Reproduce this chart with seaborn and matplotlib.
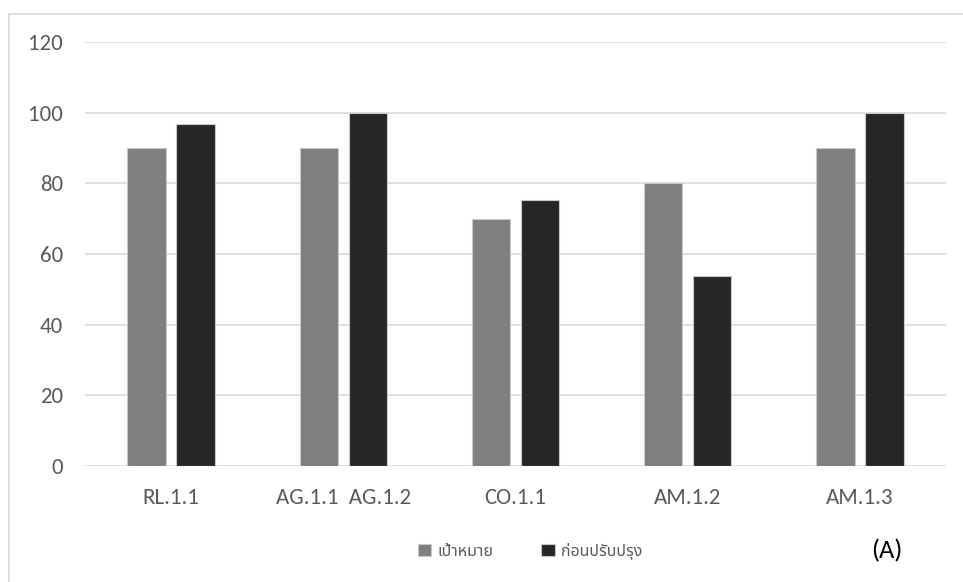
import matplotlib
matplotlib.use("Agg")
import matplotlib.pyplot as plt
from matplotlib.patches import Rectangle
import seaborn as sns
import pandas as pd

categories = ["RL.1.1", "AG.1.1  AG.1.2", "CO.1.1", "AM.1.2", "AM.1.3"]
series_names = ["เป้าหมาย", "ก่อนปรับปรุง"]
target = [90, 90, 70, 80, 90]
before = [96.7, 100, 75.3, 53.8, 100]
yticks = [0, 20, 40, 60, 80, 100, 120]
panel_label = "(A)"

df = pd.DataFrame({
    "cat": categories * 2,
    "series": [series_names[0]] * len(categories) + [series_names[1]] * len(categories),
    "value": target + before,
})

sns.set_theme(style="white")
latin = ["Carlito", "Open Sans", "DejaVu Sans"]
thai = ["Noto Sans Thai", "Sarabun", "Athiti", "DejaVu Sans"]
plt.rcParams["font.family"] = latin

W, H = 963, 582
fig = plt.figure(figsize=(W / 100, H / 100), dpi=100)
ax = fig.add_axes([85 / W, 1 - 466 / H, (946 - 85) / W, (466 - 42) / H])

palette = {series_names[0]: "#7f7f7f", series_names[1]: "#262626"}
sns.barplot(data=df, x="cat", y="value", hue="series", order=categories,
            hue_order=series_names, palette=palette, width=0.57, gap=0.22,
            edgecolor="#c8c8c8", linewidth=0.8, saturation=1, ax=ax, legend=True)

ax.set_ylim(0, 120)
ax.set_yticks(yticks)
ax.set_xlim(-0.5, len(categories) - 0.5)
ax.set_xlabel("")
ax.set_ylabel("")
ax.grid(axis="y", color="#d9d9d9", linewidth=1.2)
ax.set_axisbelow(True)
for s in ax.spines.values():
    s.set_visible(False)
ax.tick_params(axis="both", length=0, labelsize=16.5, colors="#595959")
ax.tick_params(axis="y", pad=16)
ax.tick_params(axis="x", pad=16)

handles, labels = ax.get_legend_handles_labels()
ax.get_legend().remove()
fig.legend(handles, labels, loc="center", bbox_to_anchor=(530 / W, 1 - 551 / H),
           ncol=2, frameon=False, handlelength=0.85, handleheight=0.85,
           handletextpad=0.4, columnspacing=3.0,
           prop={"family": thai, "size": 11.5}, labelcolor="#595959")

fig.text(871 / W, 1 - 551 / H, panel_label, ha="left", va="center",
         fontsize=19, color="black", family=latin)

fig.patches.append(Rectangle((8.5 / W, -0.1), 1.2, 1.1 - 13.5 / H,
                             transform=fig.transFigure, fill=False,
                             edgecolor="#d9d9d9", linewidth=1.2))

fig.savefig("out.png", dpi=100)
